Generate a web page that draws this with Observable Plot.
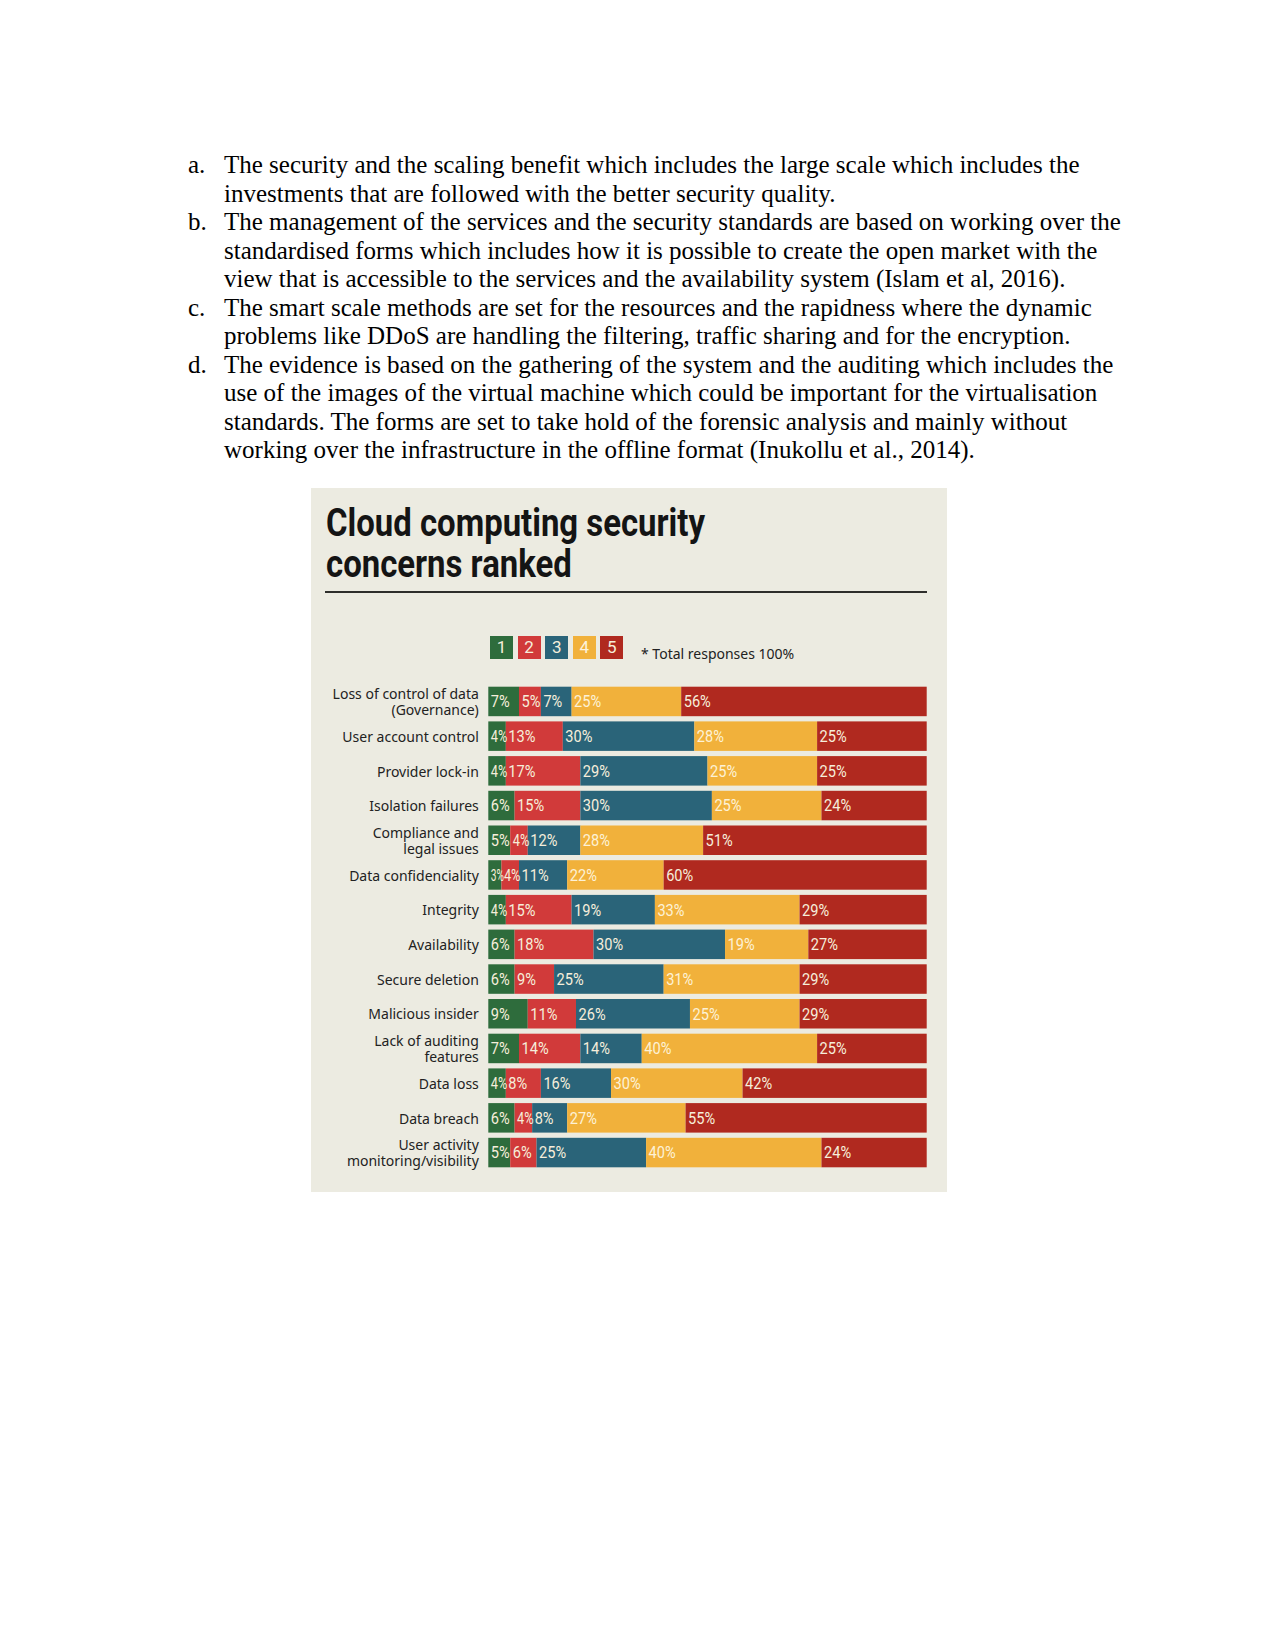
<!DOCTYPE html>
<html>
<head>
<meta charset="utf-8">
<script src="https://cdn.jsdelivr.net/npm/d3@7"></script>
<script src="https://cdn.jsdelivr.net/npm/@observablehq/plot@0.6"></script>
<style>
html, body { margin: 0; padding: 0; background: #ffffff; }
#page { position: relative; width: 1275px; height: 1650px; overflow: hidden; background: #fff; }
.line { position: absolute; font-family: "Liberation Serif", "Times New Roman", serif; font-size: 25px; line-height: 28.5px; color: #000; white-space: nowrap; }
#panel { position: absolute; left: 311px; top: 488px; width: 636px; height: 704px; background: #ecebe1; }
.title { position: absolute; left: 326px; font-family: Roboto, sans-serif; font-weight: 700; font-size: 38px; line-height: 38px; color: #141414; white-space: nowrap; transform-origin: 0 0; }
#rule { position: absolute; left: 325px; top: 591px; width: 602px; height: 2px; background: #2e2e2b; }
.sq { position: absolute; top: 636px; width: 23px; height: 23px; font-family: Roboto, sans-serif; font-size: 17px; line-height: 23px; text-align: center; color: #f6eedb; }
#note { position: absolute; left: 641px; top: 644px; font-family: "Noto Sans", sans-serif; font-size: 14px; line-height: 20px; color: #222; white-space: nowrap; }
#chart { position: absolute; left: 311px; top: 670px; }
</style>
</head>
<body>
<div id="page"></div>
<script>
// ---------- data ----------
const paragraphMarkers = ["a.", "b.", "c.", "d."];
const paragraphLines = [
  ["The security and the scaling benefit which includes the large scale which includes the",
   "investments that are followed with the better security quality."],
  ["The management of the services and the security standards are based on working over the",
   "standardised forms which includes how it is possible to create the open market with the",
   "view that is accessible to the services and the availability system (Islam et al, 2016)."],
  ["The smart scale methods are set for the resources and the rapidness where the dynamic",
   "problems like DDoS are handling the filtering, traffic sharing and for the encryption."],
  ["The evidence is based on the gathering of the system and the auditing which includes the",
   "use of the images of the virtual machine which could be important for the virtualisation",
   "standards. The forms are set to take hold of the forensic analysis and mainly without",
   "working over the infrastructure in the offline format (Inukollu et al., 2014)."]
];
const titleLines = ["Cloud computing security", "concerns ranked"];
const noteText = "* Total responses 100%";

const categories = [
  "Loss of control of data\n(Governance)",
  "User account control",
  "Provider lock-in",
  "Isolation failures",
  "Compliance and\nlegal issues",
  "Data confidenciality",
  "Integrity",
  "Availability",
  "Secure deletion",
  "Malicious insider",
  "Lack of auditing\nfeatures",
  "Data loss",
  "Data breach",
  "User activity\nmonitoring/visibility"
];
const ranks = ["1", "2", "3", "4", "5"];
const rank1 = [7, 4, 4, 6, 5, 3, 4, 6, 6, 9, 7, 4, 6, 5];
const rank2 = [5, 13, 17, 15, 4, 4, 15, 18, 9, 11, 14, 8, 4, 6];
const rank3 = [7, 30, 29, 30, 12, 11, 19, 30, 25, 26, 14, 16, 8, 25];
const rank4 = [25, 28, 25, 25, 28, 22, 33, 19, 31, 25, 40, 30, 27, 40];
const rank5 = [56, 25, 25, 24, 51, 60, 29, 27, 29, 29, 25, 42, 55, 24];
const rankColors = ["#2e6c3c", "#d13a3a", "#2a6479", "#f1b13b", "#b0291f"];

// ---------- page text ----------
const page = document.getElementById("page");
let li = 0;
paragraphLines.forEach((lines, p) => {
  lines.forEach((t, k) => {
    const top = 151 + 28.5 * li;
    if (k === 0) {
      const m = document.createElement("div");
      m.className = "line"; m.style.left = "188px"; m.style.top = top + "px";
      m.textContent = paragraphMarkers[p];
      page.appendChild(m);
    }
    const d = document.createElement("div");
    d.className = "line"; d.style.left = "224px"; d.style.top = top + "px";
    d.textContent = t;
    page.appendChild(d);
    li++;
  });
});

const panel = document.createElement("div");
panel.id = "panel"; page.appendChild(panel);

const titleEls = titleLines.map((t, i) => {
  const d = document.createElement("div");
  d.className = "title"; d.style.top = (504 + 41 * i) + "px";
  d.textContent = t; page.appendChild(d); return d;
});
const rule = document.createElement("div"); rule.id = "rule"; page.appendChild(rule);

ranks.forEach((r, i) => {
  const s = document.createElement("div");
  s.className = "sq"; s.style.left = (490 + 27.6 * i) + "px";
  s.style.background = rankColors[i];
  if (r === "4") s.style.color = "#fdf3dc";
  s.textContent = r; page.appendChild(s);
});
const note = document.createElement("div"); note.id = "note"; note.textContent = noteText; page.appendChild(note);

// ---------- chart ----------
const series = [rank1, rank2, rank3, rank4, rank5];
const rows = [];
categories.forEach((c, i) => {
  ranks.forEach((r, j) => rows.push({cat: c, rank: r, value: series[j][i]}));
});

const W = 636, ML = 177.3, MR = 20.3;
const labelDx = 2;
const chart = Plot.plot({
  width: W,
  height: 522,
  marginLeft: ML,
  marginRight: MR,
  marginTop: 16.7,
  marginBottom: 24.7,
  style: {background: "transparent", fontFamily: "'Noto Sans', sans-serif", fontSize: "14px", color: "#222"},
  x: {domain: [0, 100], axis: null},
  y: {domain: categories, paddingInner: 0.15, paddingOuter: 0, round: false, axis: null},
  color: {domain: ranks, range: rankColors},
  marks: [
    Plot.barX(rows, {x: "value", y: "cat", fill: "rank", z: "rank"}),
    Plot.text(rows, Plot.stackX1({
      x: "value", y: "cat", z: "rank",
      text: d => d.value + "%",
      textAnchor: "start", dx: labelDx,
      fill: d => d.rank === "4" ? "#fdf1d6" : "#f6eedb",
      fontSize: 17, fontFamily: "Roboto, sans-serif"
    })),
    Plot.axisY({tickSize: 0, tickPadding: 10, fontSize: 14, lineHeight: 1.15, fill: "#222", label: null})
  ]
});
chart.id = "chart";
page.appendChild(chart);

// condense the percentage labels (narrow typeface in the reference), fitting small segments
const pxPerUnit = (W - ML - MR) / 100;
chart.querySelectorAll('g[aria-label="text"] text').forEach(el => {
  const i = el.__data__;
  const d = rows[i];
  if (!d) return;
  const nat = el.getComputedTextLength();
  const avail = d.value * pxPerUnit - labelDx + 1;
  const s = Math.max(0.6, Math.min(0.86, avail / nat));
  const t = el.getAttribute("transform") || "";
  if (el.hasAttribute("x")) {
    const x = +el.getAttribute("x");
    el.setAttribute("transform", `${t} translate(${x},0) scale(${s},1) translate(${-x},0)`);
  } else {
    el.setAttribute("transform", `${t} scale(${s},1)`);
  }
});

// condense title to the reference's width
const w0 = titleEls[0].getBoundingClientRect().width;
const sx = 379 / w0;
titleEls.forEach(el => el.style.transform = `scaleX(${sx})`);
</script>
</body>
</html>
